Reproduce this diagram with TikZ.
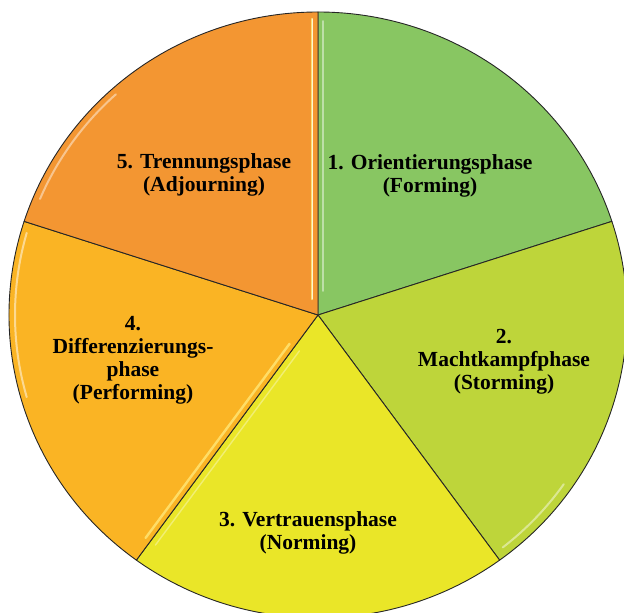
\documentclass[tikz,border=0pt]{standalone}
\usepackage{fontspec}
\setmainfont{Liberation Serif}
\usetikzlibrary{calc}
\definecolor{forming}{RGB}{136,198,98}
\definecolor{storming}{RGB}{190,213,58}
\definecolor{norming}{RGB}{234,230,40}
\definecolor{performing}{RGB}{250,180,36}
\definecolor{adjourning}{RGB}{243,150,50}
\definecolor{glint}{RGB}{255,232,120}
\begin{document}
\begin{tikzpicture}[x=1pt,y=1pt,
  slice/.style={draw=black!85, line width=0.9pt, line join=round},
  phase/.style={font=\bfseries\fontsize{21.5}{23}\selectfont, align=center, text=black, inner sep=0pt},
  gloss/.style={line width=2pt, line cap=round, draw=white, opacity=0.5}]
\useasboundingbox (0,0) rectangle (624,613);
\clip (0,0) rectangle (624,613);
\coordinate (c) at (318,298);

% five equal slices, clockwise from the top
\filldraw[slice, fill=forming] (c) -- ++(90:309pt and 303pt)
  arc[start angle=90, end angle=18, x radius=309pt, y radius=303pt] -- cycle;
\filldraw[slice, fill=storming] (c) -- ++(18:309pt and 303pt)
  arc[start angle=18, end angle=-54, x radius=309pt, y radius=303pt] -- cycle;
\filldraw[slice, fill=norming] (c) -- ++(-54:309pt and 303pt)
  arc[start angle=-54, end angle=-126, x radius=309pt, y radius=303pt] -- cycle;
\filldraw[slice, fill=performing] (c) -- ++(234:309pt and 303pt)
  arc[start angle=234, end angle=162, x radius=309pt, y radius=303pt] -- cycle;
\filldraw[slice, fill=adjourning] (c) -- ++(162:309pt and 303pt)
  arc[start angle=162, end angle=90, x radius=309pt, y radius=303pt] -- cycle;

% bevel glints along the slice edges
\draw[gloss, draw=glint, opacity=0.9, line width=2.6pt] (312,594) -- (312,314);
\draw[gloss, opacity=0.7, line width=1pt] (312,594) -- (312,314);
\draw[gloss, opacity=0.45, line width=1.6pt] (323,592) -- (323,322);
\draw[gloss, draw=glint, opacity=0.8, line width=2.4pt]
  ($(c)+(234:40pt and 40pt)+(-4.9,3.6)$) -- ($(c)+(234:285pt and 280pt)+(-4.9,3.6)$);
\draw[gloss, opacity=0.35, line width=1.4pt]
  ($(c)+(234:40pt and 40pt)+(4.9,-3.6)$) -- ($(c)+(234:285pt and 280pt)+(4.9,-3.6)$);
\draw[gloss, opacity=0.45] ($(c)+(-52:300pt and 295pt)$)
  arc[start angle=-52, end angle=-35, x radius=300pt, y radius=295pt];
\draw[gloss, opacity=0.45] ($(c)+(132:302pt and 297pt)$)
  arc[start angle=132, end angle=157, x radius=302pt, y radius=297pt];
\draw[gloss, opacity=0.5] ($(c)+(164:303pt and 298pt)$)
  arc[start angle=164, end angle=196, x radius=303pt, y radius=298pt];

% phase labels
\node[phase] (p1) at (430,437) {1. Orientierungsphase\\(Forming)};
\node[phase] (p2) at (504,251) {2.\\Machtkampfphase\\(Storming)};
\node[phase] (p3) at (308,80) {3. Vertrauensphase\\(Norming)};
\node[phase] (p4) at (133,253) {4.\\Differenzierungs-\\phase\\(Performing)};
\node[phase] (p5) at (204,438) {5. Trennungsphase\\(Adjourning)};
\end{tikzpicture}
\end{document}
